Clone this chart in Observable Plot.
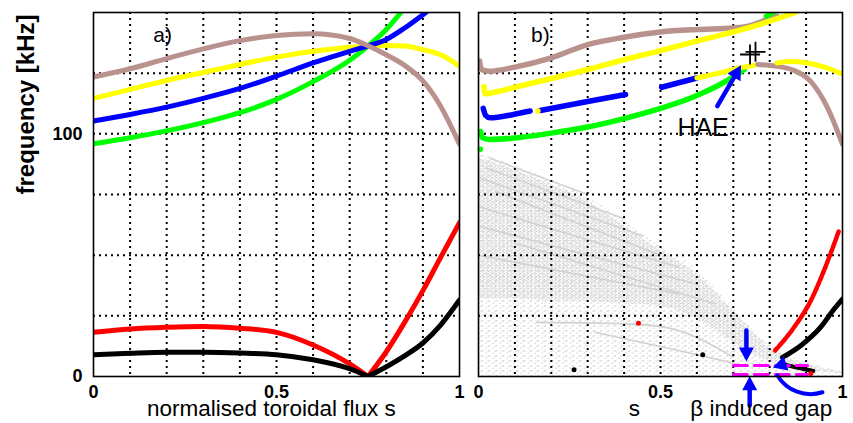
<!DOCTYPE html>
<html><head><meta charset="utf-8">
<script src="https://cdn.jsdelivr.net/npm/d3@7"></script>
<script src="https://cdn.jsdelivr.net/npm/@observablehq/plot@0.6"></script>
<style>
html,body{margin:0;padding:0;background:#fff;}
#chart{display:flex;width:853px;height:423px;overflow:hidden;}
</style></head><body><div id="chart"></div>
<script>
// ---------- data ----------
const xTickLabels = [0, 0.5, 1];
const yTickLabels = [0, 100];
const gridXTicks = [0.1, 0.2, 0.3, 0.4, 0.5, 0.6, 0.7, 0.8, 0.9];
const gridYTicks = [25, 50, 75, 100, 125];

// panel a) continuum curves
const sA      = [0, 0.1, 0.2, 0.3, 0.4, 0.5, 0.6, 0.7, 0.75, 0.8, 0.85, 0.9, 0.95, 1.0];
const brownA  = [123.4, 126.8, 131, 135, 138.4, 140.5, 141.2, 139.3, 136.3, 132.6, 128.2, 121.8, 111, 95.7];
const yellowA = [114.6, 118.3, 122, 125.3, 128.6, 131.6, 134, 135.7, 136.2, 136.4, 136.2, 134.7, 132.5, 127.9];
const blueA   = [105.3, 108, 111, 114.6, 118.7, 123.8, 129.2, 134, 136.2, 138.9, 143.6, 149.1, 155];
const greenA  = [95.9, 98.4, 101.2, 104.6, 108.7, 114.2, 121.5, 130.3, 136.2, 143, 152];
const sLowL   = [0, 0.1, 0.2, 0.3, 0.4, 0.5, 0.6, 0.7, 0.75];
const sLowR   = [0.75, 0.8, 0.85, 0.9, 0.95, 1.0];
const redAL   = [18.2, 19.6, 20.3, 20.6, 19.9, 18.2, 13, 5.2, 0];
const redAR   = [0, 10.2, 22.3, 35.4, 49.5, 63.4];
const blackAL = [9, 9.6, 10, 10, 9.7, 9, 6.9, 3.2, 0];
const blackAR = [0, 4, 8.5, 13.8, 21.5, 31.5];

// panel b) computed branches
const brownBUs = [0.003, 0.008, 0.03, 0.1, 0.2, 0.3, 0.4, 0.5, 0.6, 0.7, 0.75, 0.78, 0.8, 0.82];
const brownBUf = [130, 126.5, 125.8, 127.5, 131.3, 136.8, 139.8, 142, 143, 143.6, 144.7, 146.4, 147.5, 148.5];
const yellowBUs = [0.015, 0.018, 0.04, 0.1, 0.2, 0.3, 0.4, 0.5, 0.6, 0.7, 0.8, 0.87];
const yellowBUf = [119.5, 116.5, 117, 119.2, 122.8, 126.5, 130.6, 134.3, 138.2, 142, 146.4, 150];
const greenTopS = [0.79, 0.81];
const greenTopF = [148.5, 150];
const blue1s = [0.013, 0.02, 0.032, 0.096, 0.142];
const blue1f = [110.5, 107.5, 106.6, 108, 109.4];
const blue2s = [0.17, 0.307, 0.404];
const blue2f = [109.6, 113.5, 116.2];
const blue3s = [0.503, 0.60];
const blue3f = [119.2, 123];
const yellowDotS = [0.163];
const yellowDotF = [109.4];
const yellowLs = [0.60, 0.66, 0.72, 0.757];
const yellowLf = [123, 125, 127.3, 128.2];
const greenBs = [0.006, 0.01, 0.028, 0.1, 0.2, 0.3, 0.4, 0.5, 0.6, 0.7, 0.73];
const greenBf = [101, 98.5, 97.7, 98.3, 100.3, 102.8, 106.3, 110.5, 115.8, 123.5, 126.5];
const greenDotS = [0.005];
const greenDotF = [93.6];
const brownBLs = [0.767, 0.8, 0.83, 0.864, 0.912, 0.959, 1.0];
const brownBLf = [128.6, 128.2, 127.6, 126.3, 121.7, 110.7, 95.7];
const yellowBRs = [0.82, 0.86, 0.9, 0.95, 1.0];
const yellowBRf = [129.2, 129.8, 129.3, 127.5, 124.7];
const redBs = [0.815, 0.867, 0.913, 0.949, 0.977, 0.99];
const redBf = [10.7, 20.3, 31.3, 43.6, 54.6, 60];
const blackBs = [0.835, 0.885, 0.94, 0.977, 1.0];
const blackBf = [7.9, 12.7, 20.3, 27.8, 31.9];
const blackLowS = [0.83, 0.86, 0.89, 0.92];
const blackLowF = [5.5, 4.2, 3.2, 2.3];
const blackDotS = [0.2625, 0.616];
const blackDotF = [2.75, 9];
const redDotS = [0.4395, 0.913];
const redDotF = [21.9, 1.2];
const crossS = [0.746, 0.761];
const crossF = [132.7, 133.8];

// grey Alfvén continuum cloud (outline + streaks)
const cloudS      = [0, 0.1, 0.2, 0.3, 0.4, 0.5, 0.6, 0.7, 0.8, 0.9, 1.0];
const cloudTop    = [92, 87, 81, 74, 64, 54, 44, 28, 13, 6, 2];
const denseTop    = [90, 85, 79, 72, 62, 52, 42, 27, 12, 5, 2];
const denseBottom = [32, 32, 31, 31, 30, 29, 24, 14, 6, 3, 1];
const streakS = [[0.03, 0.30], [0.02, 0.40], [0.0, 0.45], [0.05, 0.50], [0.0, 0.55], [0.0, 0.60], [0.10, 0.65], [0.0, 0.55], [0.16, 0.44, 0.55, 0.70], [0.32, 0.55, 0.72]];
const streakF = [[90, 75], [86, 65], [82, 58], [76, 50], [70, 45], [62, 38], [55, 30], [50, 34], [22.3, 21.5, 18.9, 8], [18.2, 10.7, 4.8]];

// annotations
const gapS = [0.70, 0.904];
const gapLevels = [0.8, 4.5];
const arrowS1 = [0.656, 0.736, 0.745, 0.945];
const arrowF1 = [111.4, 19, -12, -6.5];
const arrowS2 = [0.72, 0.736, 0.745, 0.811];
const arrowF2 = [127.9, 6.6, -0.3, 3.8];
const arrowBend = [0, 0, 0, 45];
const panelLabels = ["a)", "b)"];

// ---------- helpers ----------
const FONT = "Liberation Sans, Arial, Helvetica, sans-serif";
const C = {brown: "#b9918d", yellow: "#ffff00", blue: "#0000ff", green: "#00ff00", red: "#ff0000", black: "#000000", magenta: "#ff00ff"};
const rows = (s, f) => s.map((v, i) => ({s: v, f: f[i]}));
const H = 423, MT = 12, MB = 47;
const TITLE_Y = -13.5, TITLE_SIZE = 22.5;

function common(extra) {
  return [
    Plot.gridX(gridXTicks, {stroke: "black", strokeOpacity: 1, strokeWidth: 2, strokeDasharray: "2,4"}),
    Plot.gridY(gridYTicks, {stroke: "black", strokeOpacity: 1, strokeWidth: 2, strokeDasharray: "2,4"}),
    ...extra,
    Plot.frame({stroke: "black", strokeWidth: 1.6}),
    Plot.axisX(xTickLabels, {tickSize: 0, tickPadding: 9, fontSize: 18, fontWeight: "bold", label: null, tickFormat: d => String(d)})
  ];
}
const ln = (s, f, color, opts = {}) => Plot.line(rows(s, f), {x: "s", y: "f", stroke: color, strokeWidth: 5, curve: "monotone-x", clip: true, ...opts});

// ---------- panel a ----------
const plotA = Plot.plot({
  width: 468, height: H, marginLeft: 93, marginRight: 9, marginTop: MT, marginBottom: MB,
  style: {fontFamily: FONT, background: "white", overflow: "visible"},
  x: {domain: [0, 1]}, y: {domain: [0, 150], axis: null},
  marks: [
    ...common([
      ln(sA, yellowA, C.yellow),
      ln(sA.slice(0, greenA.length), greenA, C.green),
      ln(sA.slice(0, blueA.length), blueA, C.blue),
      ln(sA, brownA, C.brown),
      ln(sLowL, redAL, C.red),
      ln(sLowR, redAR, C.red),
      ln(sLowL, blackAL, C.black),
      ln(sLowR, blackAR, C.black),
      Plot.text([panelLabels[0]], {x: 0.189, y: 140.6, text: d => d, fontSize: 21, lineAnchor: "middle"}),
      Plot.text(["normalised toroidal flux s"], {x: 0.486, y: TITLE_Y, text: d => d, fontSize: TITLE_SIZE, lineAnchor: "middle"}),
      Plot.text(["frequency [kHz]"], {frameAnchor: "left", text: d => d, rotate: -90, dx: -67, fontSize: 24, fontWeight: "bold", lineAnchor: "middle"})
    ]),
    Plot.axisY(yTickLabels, {tickSize: 0, tickPadding: 11, fontSize: 18, fontWeight: "bold", label: null})
  ]
});

// ---------- panel b ----------
const innerW = 385 - 10 - 11, innerH = H - MT - MB;
const arrows = arrowS1.map((s, i) => {
  const a = {x1: s, y1: arrowF1[i], x2: arrowS2[i], y2: arrowF2[i], bend: arrowBend[i]};
  a.angle = Math.atan2(-(a.y2 - a.y1) * innerH / 150, (a.x2 - a.x1) * innerW) * 180 / Math.PI - a.bend;
  return a;
});
const headSymbol = {draw(ctx) { ctx.moveTo(1, 0); ctx.lineTo(-13, -7.5); ctx.lineTo(-13, 7.5); ctx.closePath(); }};

const plotB = Plot.plot({
  width: 385, height: H, marginLeft: 10, marginRight: 11, marginTop: MT, marginBottom: MB,
  style: {fontFamily: FONT, background: "white", overflow: "visible"},
  x: {domain: [0, 1]}, y: {domain: [0, 150], axis: null},
  marks: [
    Plot.areaY(cloudS.map((s, i) => ({s, top: cloudTop[i]})), {x: "s", y1: 0, y2: "top", fill: "url(#speckSparse)", curve: "monotone-x"}),
    Plot.areaY(cloudS.map((s, i) => ({s, top: denseTop[i], bot: denseBottom[i]})), {x: "s", y1: "bot", y2: "top", fill: "url(#speckDense)", curve: "monotone-x"}),
    Plot.line(streakS.flatMap((ss, k) => ss.map((s, i) => ({s, f: streakF[k][i], k}))), {x: "s", y: "f", z: "k", stroke: "#d2d2d2", strokeWidth: 1.6, curve: "monotone-x"}),
    ...common([
      ln(brownBUs, brownBUf, C.brown, {strokeWidth: 5.5}),
      ln(greenTopS, greenTopF, C.green),
      ln(yellowBUs, yellowBUf, C.yellow, {strokeWidth: 5.5}),
      ln(greenBs, greenBf, C.green, {strokeWidth: 5.5}),
      ln(blue1s, blue1f, C.blue, {strokeWidth: 5.5}),
      ln(blue2s, blue2f, C.blue, {strokeWidth: 5.5}),
      ln(blue3s, blue3f, C.blue, {strokeWidth: 5.5}),
      ln(yellowLs, yellowLf, C.yellow, {strokeWidth: 5}),
      Plot.dot(rows(yellowDotS, yellowDotF), {x: "s", y: "f", r: 2.8, fill: C.yellow}),
      Plot.dot(rows(greenDotS, greenDotF), {x: "s", y: "f", r: 2.8, fill: C.green}),
      ln(brownBLs, brownBLf, C.brown, {strokeWidth: 5}),
      ln(yellowBRs, yellowBRf, C.yellow, {strokeWidth: 5}),
      ln(redBs, redBf, C.red, {strokeWidth: 4.5, strokeDasharray: "4,2"}),
      ln(blackBs, blackBf, C.black, {strokeWidth: 5}),
      ln(blackLowS, blackLowF, C.black, {strokeWidth: 4}),
      Plot.dot(rows(blackDotS, blackDotF), {x: "s", y: "f", r: 2.5, fill: C.black}),
      Plot.dot(rows(redDotS, redDotF), {x: "s", y: "f", r: 2.5, fill: C.red}),
      Plot.dot(rows(crossS, crossF), {x: "s", y: "f", r: 10, stroke: "black", strokeWidth: 1.8, fill: "none",
        symbol: {draw(ctx, size) { const r = Math.sqrt(size / Math.PI); ctx.moveTo(-r, 0); ctx.lineTo(r, 0); ctx.moveTo(0, -r); ctx.lineTo(0, r); }}}),
      ...gapLevels.map(g => Plot.line(gapS.map(s => ({s, f: g})), {x: "s", y: "f", stroke: C.magenta, strokeWidth: 3, strokeDasharray: "14,7"})),
      Plot.arrow(arrows.filter(a => a.bend === 0), {x1: "x1", y1: "y1", x2: "x2", y2: "y2", stroke: C.blue, strokeWidth: 4.5, headLength: 0, insetEnd: 9}),
      Plot.arrow(arrows.filter(a => a.bend !== 0), {x1: "x1", y1: "y1", x2: "x2", y2: "y2", stroke: C.blue, strokeWidth: 4, headLength: 0, insetEnd: 9, bend: 45}),
      Plot.dot(arrows, {x: "x2", y: "y2", rotate: "angle", symbol: headSymbol, fill: C.blue, stroke: "none"}),
      Plot.text([panelLabels[1]], {x: 0.17, y: 140.6, text: d => d, fontSize: 21, lineAnchor: "middle"}),
      Plot.text(["HAE"], {x: 0.617, y: 102.2, text: d => d, fontSize: 25, lineAnchor: "middle"}),
      Plot.text(["s"], {x: 0.428, y: TITLE_Y, text: d => d, fontSize: TITLE_SIZE, lineAnchor: "middle"}),
      Plot.text(["β induced gap"], {x: 0.582, y: TITLE_Y, text: d => d, fontSize: TITLE_SIZE, lineAnchor: "middle", textAnchor: "start"})
    ])
  ]
});

// speckle patterns for the grey continuum cloud
const ns = "http://www.w3.org/2000/svg";
const defs = document.createElementNS(ns, "defs");
function pattern(id, w, h, dots, color) {
  const p = document.createElementNS(ns, "pattern");
  p.setAttribute("id", id); p.setAttribute("width", w); p.setAttribute("height", h);
  p.setAttribute("patternUnits", "userSpaceOnUse");
  for (const [x, y] of dots) {
    const r = document.createElementNS(ns, "rect");
    r.setAttribute("x", x); r.setAttribute("y", y); r.setAttribute("width", 1.4); r.setAttribute("height", 1.4);
    r.setAttribute("fill", color); p.appendChild(r);
  }
  defs.appendChild(p);
}
pattern("speckSparse", 7, 5, [[0, 0], [3.5, 2.5], [5.5, 0.5]], "#d8d8d8");
pattern("speckDense", 4, 3, [[0, 0], [2, 1.5], [3, 0.2]], "#d6d6d6");
plotB.insertBefore(defs, plotB.firstChild);

document.getElementById("chart").append(plotA, plotB);
</script></body></html>
